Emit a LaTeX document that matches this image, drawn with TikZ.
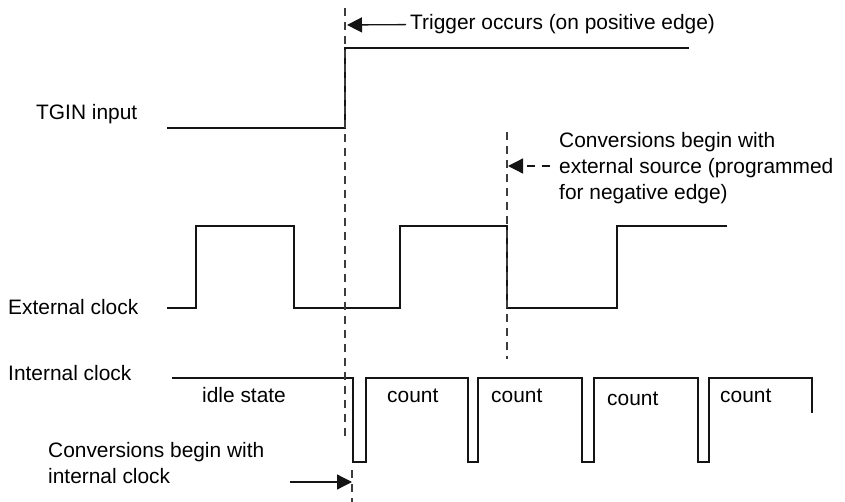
\documentclass[tikz,border=0pt]{standalone}
\usepackage{fontspec}
\setmainfont{Liberation Sans}
\usepackage{xcolor}
\usepackage{tikz}
\usetikzlibrary{arrows.meta}
\definecolor{waveBlack}{RGB}{20, 20, 20}
\definecolor{dashGray}{RGB}{60, 60, 60}

\begin{document}
\begin{tikzpicture}[x=1pt, y=-1pt,
    lbl/.style={anchor=base west, inner sep=0pt, font=\fontsize{20.9}{26}\selectfont, align=left},
    wave/.style={draw=waveBlack, line width=1.3pt},
    dashline/.style={draw=dashGray, line width=1.3pt, dash pattern=on 8pt off 6pt},
    arr/.style={draw=waveBlack, line width=1.3pt, -{Triangle[length=15pt, width=15pt]}}
]
\useasboundingbox (0,0) rectangle (845,502);

% Signal names
\node[lbl] (tgin) at (36,120) {TGIN input};
\node[lbl] (extclk) at (8,315) {External clock};
\node[lbl] (intclk) at (8,380) {Internal clock};

% Waveforms
\draw[wave] (167,128) -| (345,48) -- (689,48);
\draw[wave] (167,308) -| (196,226) -| (294,308) -| (400,226) -| (507,308) -| (617,226) -- (727,226);
\draw[wave] (172,378) -| (353,462) -| (366,378) -| (468,462) -| (478,378) -| (582,462)
    -| (594,378) -| (698,462) -| (709,378) -| (812,413);

% Internal clock states
\node[lbl] (idle) at (202,402) {idle state};
\foreach \x/\y [count=\i] in {387/402, 491/402, 607/405, 720/402} {
    \node[lbl] (count\i) at (\x,\y) {count};
}

% Dashed markers
\coordinate (trigTop) at (345,8);
\coordinate (trigBot) at (345,440);
\coordinate (intTop) at (352,470);
\coordinate (intBot) at (352,502);
\coordinate (extTop) at (507,132);
\coordinate (extBot) at (507,359);
\draw[dashline] (trigTop) -- (trigBot);
\draw[dashline] (intTop) -- (intBot);
\draw[dashline] (extTop) -- (extBot);

% Notes with arrows (base sits on the last line)
\node[lbl] (trig) at (410,30) {Trigger occurs (on positive edge)};
\coordinate (trigTip) at (347,25);
\draw[arr] ([xshift=-4pt]trig.west) -- (trigTip);

\node[lbl] (extnote) at (559,200) {Conversions begin with\\external source (programmed\\for negative edge)};
\coordinate (extTail) at (550,166);
\coordinate (extTip) at (508,166);
\draw[arr, dash pattern=on 8pt off 7pt] (extTail) -- (extTip);

\node[lbl] (intnote) at (48,483) {Conversions begin with\\internal clock};
\coordinate (intTail) at (290,482);
\coordinate (intTip) at (352,482);
\draw[arr] (intTail) -- (intTip);
\end{tikzpicture}
\end{document}
